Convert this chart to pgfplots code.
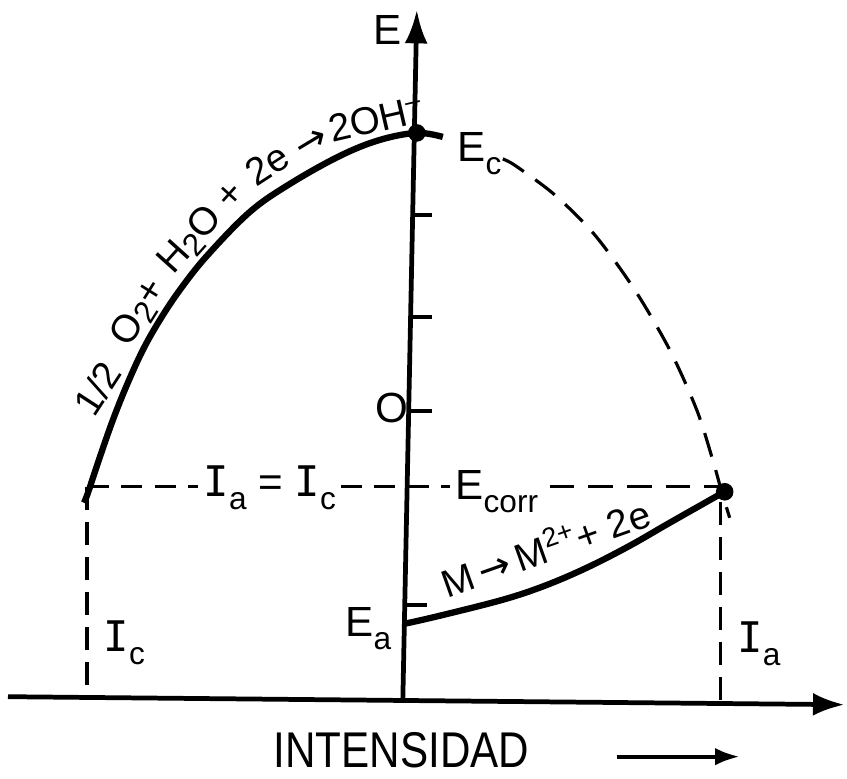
\documentclass[border=0pt]{standalone}
\usepackage{fontspec}
\setmainfont{Liberation Sans}
\newfontfamily\dv{DejaVu Sans}
\newfontfamily\dvm{DejaVu Sans Mono}
\usepackage{pgfplots}
\pgfplotsset{compat=1.18}
\usetikzlibrary{arrows.meta}
\tikzset{lab/.style={font=\fontsize{12}{14}\selectfont, inner sep=0pt},
         rlab/.style={font=\fontsize{11}{13}\selectfont, inner sep=0pt, anchor=base west}}
\newcommand\sub[1]{\raisebox{-0.3em}{\small #1}}
\newcommand\lo[1]{\raisebox{-0.15em}{\small #1}}
\newcommand\II{{\dvm I}}
\begin{document}
\begin{tikzpicture}
\begin{axis}[hide axis, x=0.1mm, y=0.1mm, xmin=-403, xmax=444, ymin=-79, ymax=700,
  clip=false, scale only axis]
\addplot[draw=none] coordinates {(-403,-79) (444,700)};
% axes
\addplot[line width=1.35pt, -{Latex[length=9pt,width=6.5pt]}] coordinates {(-395,3) (442,-5)};
\addplot[line width=1.35pt, -{Latex[length=9.5pt,width=6.5pt]}] coordinates {(0,0) (14,690)};
% ticks on E axis
\addplot[line width=1.1pt] coordinates {(10,485) (29,485)};
\addplot[line width=1.1pt] coordinates {(9,383) (29,383)};
\addplot[line width=1.1pt] coordinates {(7,289) (29,289)};
\addplot[line width=1.1pt] coordinates {(3,95) (24,95)};
% cathodic curve
\addplot[line width=1.8pt, smooth, tension=0.6] coordinates {
(-319,197) (-315,207) (-303,243) (-290,280) (-276,315) (-260,350) (-243,380)
(-223,410) (-196,444) (-153,488) (-113,516) (-63,544) (-23,560) (14,567) (40,563)};
% dashed continuation (interrupted by the E_c label)
\addplot[line width=0.9pt, dash pattern=on 7pt off 4pt, smooth, tension=0.5] coordinates {
(100,541) (113,534) (152,505) (192,465) (232,410) (267,350) (294,290) (310,240) (319,208) (327,182)};
% anodic curve
\addplot[line width=1.8pt, smooth, tension=0.6] coordinates {
(2,76) (37,84) (100,100) (142,114) (184,132) (227,154) (267,177) (320,207)};
% horizontal dashed E_corr line
\addplot[line width=0.9pt, dash pattern=on 6pt off 3.5pt] coordinates {(-315,213) (-205,213)};
\addplot[line width=0.9pt, dash pattern=on 6pt off 3.5pt] coordinates {(-62,213) (47,213)};
\addplot[line width=0.9pt, dash pattern=on 7pt off 4pt] coordinates {(147,213) (319,213)};
% vertical dashed lines
\addplot[line width=0.9pt, dash pattern=on 6.5pt off 3.5pt] coordinates {(-316,213) (-316,2)};
\addplot[line width=0.9pt, dash pattern=on 6.5pt off 3.5pt] coordinates {(318,198) (318,-5)};
% dots
\addplot[only marks, mark=*, mark size=2.3pt] coordinates {(14,567) (322,208)};
% labels
\node[lab, anchor=base west] at (axis cs:-30,655) {E};
\node[lab, anchor=base west] at (axis cs:54,538) {E\sub{c}};
\node[lab, anchor=base west] at (axis cs:-28,277) {O};
\node[lab, anchor=base west] at (axis cs:-200,203) {\II\sub{a} = \II\sub{c}};
\node[lab, anchor=base west] at (axis cs:52,200) {E\sub{corr}};
\node[lab, anchor=base west] at (axis cs:-58,63) {E\sub{a}};
\node[lab, anchor=base west] at (axis cs:-300,48) {\II\sub{c}};
\node[lab, anchor=base west] at (axis cs:334,47) {\II\sub{a}};
\node[lab, anchor=base west, font=\fontsize{14.3}{16}\selectfont] at (axis cs:-130,-68) {\scalebox{0.84}[1]{INTENSIDAD}};
\addplot[line width=1.2pt, -{Latex[length=7pt,width=5pt]}] coordinates {(214,-57) (337,-57)};
% reaction labels
\node[rlab, rotate=19.5] at (axis cs:44,101) {M\,{\dv →}\,M\textsuperscript{2+}+ 2e};
\node[rlab, rotate=57] at (axis cs:-309,281) {1/2};
\node[rlab, rotate=58] at (axis cs:-274,351) {O\lo{2}+};
\node[rlab, rotate=48] at (axis cs:-230,424) {H\lo{2}O +};
\node[rlab, rotate=33] at (axis cs:-147,512) {2e};
\node[font=\fontsize{11}{13}\selectfont, inner sep=0pt, rotate=31] at (axis cs:-91,556) {\dv →};
\node[rlab, rotate=13] at (axis cs:-71,557) {2OH\textsuperscript{–}};
\end{axis}
\end{tikzpicture}
\end{document}
